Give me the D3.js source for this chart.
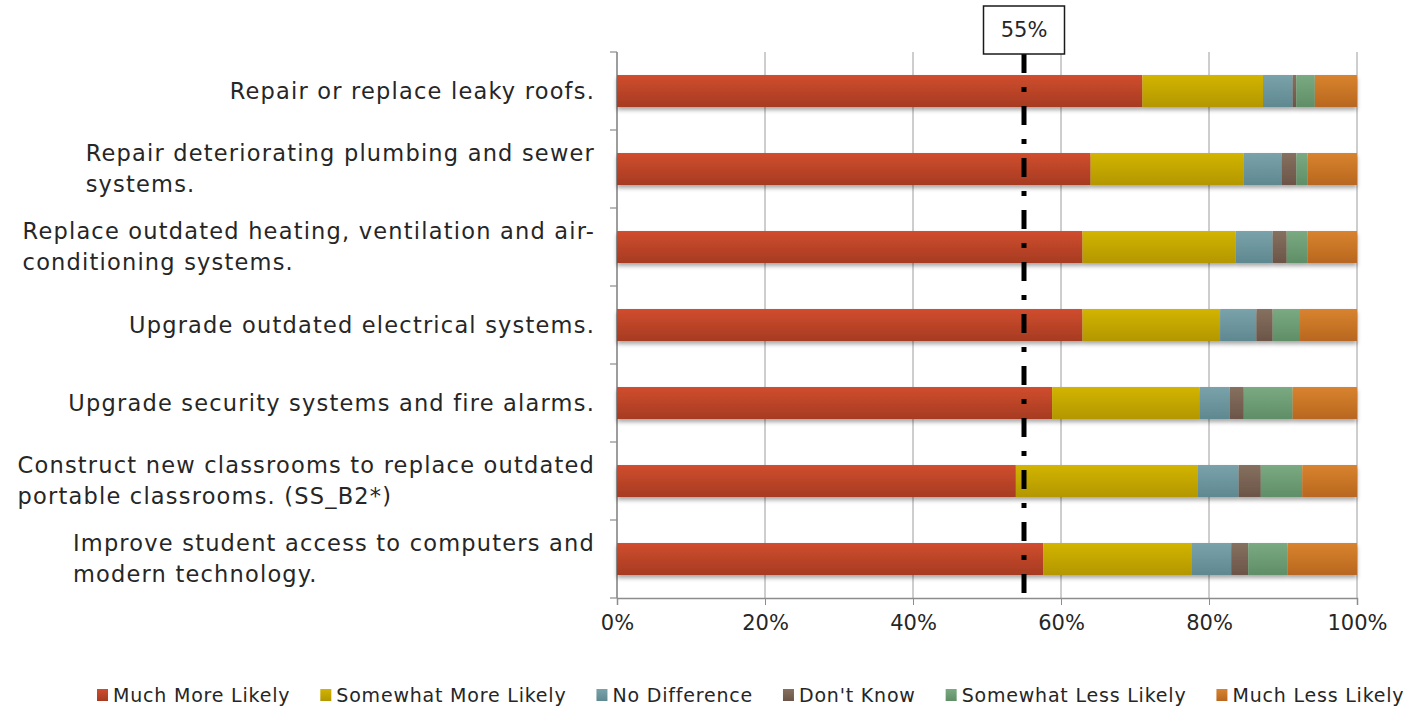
<!DOCTYPE html>
<html>
<head>
<meta charset="utf-8">
<script src="https://cdn.jsdelivr.net/npm/d3@7"></script>
<style>
  html, body { margin: 0; padding: 0; background: #fff; }
  svg { display: block; }
  text { font-family: "DejaVu Sans", "Open Sans", sans-serif; fill: #262626; }
</style>
</head>
<body>
<svg id="chart" width="1408" height="708"></svg>
<script>
// Survey items (line breaks follow the wrapped axis labels)
const categories = [
  "Repair or replace leaky roofs.",
  "Repair deteriorating plumbing and sewer\nsystems.",
  "Replace outdated heating, ventilation and air-\nconditioning systems.",
  "Upgrade outdated electrical systems.",
  "Upgrade security systems and fire alarms.",
  "Construct new classrooms to replace outdated\nportable classrooms. (SS_B2*)",
  "Improve student access to computers and\nmodern technology."
];

const seriesNames = [
  "Much More Likely", "Somewhat More Likely", "No Difference",
  "Don't Know", "Somewhat Less Likely", "Much Less Likely"
];

// Percent of respondents per series, one value per category
const muchMoreLikely     = [71.0, 64.0, 62.9, 62.9, 58.8, 53.9, 57.6];
const somewhatMoreLikely = [16.3, 20.7, 20.7, 18.6, 19.9, 24.6, 20.1];
const noDifference       = [ 4.0,  5.1,  5.0,  4.9,  4.1,  5.5,  5.3];
const dontKnow           = [ 0.5,  2.0,  1.9,  2.2,  1.9,  3.0,  2.3];
const somewhatLessLikely = [ 2.5,  1.5,  2.8,  3.7,  6.6,  5.6,  5.3];
const muchLessLikely     = [ 5.7,  6.7,  6.7,  7.7,  8.7,  7.4,  9.4];

const xTicks = [0, 20, 40, 60, 80, 100];
const thresholdValue = 55;
const thresholdLabel = "55%";

const seriesValues = [muchMoreLikely, somewhatMoreLikely, noDifference,
                      dontKnow, somewhatLessLikely, muchLessLikely];

// top / bottom shades for each series gradient
const seriesColors = [
  ["#d04d2e", "#a63b22"],
  ["#d2b400", "#b39700"],
  ["#79a2ab", "#5f8890"],
  ["#86705f", "#6b5548"],
  ["#7aaa82", "#5f8e67"],
  ["#d8832f", "#b8671f"]
];

const svg = d3.select("#chart");
const defs = svg.append("defs");

seriesColors.forEach((c, i) => {
  const g = defs.append("linearGradient")
    .attr("id", "grad" + i).attr("x1", 0).attr("y1", 0).attr("x2", 0).attr("y2", 1);
  g.append("stop").attr("offset", "0%").attr("stop-color", c[0]);
  g.append("stop").attr("offset", "100%").attr("stop-color", c[1]);
});

const shadow = defs.append("filter").attr("id", "barShadow")
  .attr("x", "-2%").attr("y", "-20%").attr("width", "104%").attr("height", "160%");
shadow.append("feDropShadow").attr("dx", 0).attr("dy", 3).attr("stdDeviation", 2)
  .attr("flood-color", "#000").attr("flood-opacity", 0.35);

const plot = { left: 617, right: 1357, top: 52, bottom: 598 };

const x = d3.scaleLinear().domain([0, 100]).range([plot.left, plot.right]);
const y = d3.scaleBand().domain(categories).range([plot.top, plot.bottom])
  .paddingInner(0.59).paddingOuter(0.295);

// vertical gridlines
svg.append("g").selectAll("line").data(xTicks).join("line")
  .attr("x1", d => x(d)).attr("x2", d => x(d))
  .attr("y1", plot.top).attr("y2", plot.bottom)
  .attr("stroke", "#9c9c9c").attr("stroke-width", 1);

// left axis with ticks on category boundaries
const step = y.step();
const boundaries = d3.range(categories.length + 1).map(i => plot.top + i * step);
const yAxisG = svg.append("g");
yAxisG.append("line")
  .attr("x1", plot.left).attr("x2", plot.left)
  .attr("y1", plot.top).attr("y2", plot.bottom)
  .attr("stroke", "#8c8c8c").attr("stroke-width", 1.5);
yAxisG.selectAll("line.tick").data(boundaries).join("line").attr("class", "tick")
  .attr("x1", plot.left - 7).attr("x2", plot.left)
  .attr("y1", d => d).attr("y2", d => d)
  .attr("stroke", "#8c8c8c").attr("stroke-width", 1.2);

// bottom axis
const xAxis = d3.axisBottom(x).tickValues(xTicks).tickFormat(d => d + "%")
  .tickSize(7).tickPadding(10);
const xAxisG = svg.append("g").attr("transform", `translate(0,${plot.bottom})`).call(xAxis);
xAxisG.select(".domain").attr("stroke", "#8c8c8c").attr("stroke-width", 1.5);
xAxisG.selectAll(".tick line").attr("stroke", "#8c8c8c");
xAxisG.selectAll(".tick text").attr("font-size", 21).attr("fill", "#262626")
  .style("font-family", "'DejaVu Sans', sans-serif");

// stacked data
const rows = categories.map((c, i) => {
  const r = { category: c };
  seriesNames.forEach((s, j) => { r[s] = seriesValues[j][i]; });
  return r;
});
const stacked = d3.stack().keys(seriesNames)(rows);

const barsG = svg.append("g");
categories.forEach((c, i) => {
  const rowG = barsG.append("g").attr("filter", "url(#barShadow)");
  stacked.forEach((layer, j) => {
    const d = layer[i];
    rowG.append("rect")
      .attr("x", x(d[0]))
      .attr("y", y(c))
      .attr("width", x(d[1]) - x(d[0]))
      .attr("height", y.bandwidth())
      .attr("fill", `url(#grad${j})`);
  });
});

// category labels: block right-aligned to the axis, wrapped lines left-aligned
const labelG = svg.append("g");
const labelRight = 595;
categories.forEach(c => {
  const lines = c.split("\n");
  const lh = 31;
  const cy = y(c) + y.bandwidth() / 2;
  const t = labelG.append("text")
    .attr("text-anchor", "start")
    .attr("font-size", 22.5)
    .attr("letter-spacing", 1.2);
  const spans = lines.map((ln, k) => t.append("tspan")
      .attr("y", cy + (k - (lines.length - 1) / 2) * lh)
      .attr("dy", "0.35em")
      .text(ln));
  const maxW = d3.max(spans, s => s.node().getComputedTextLength());
  spans.forEach(s => s.attr("x", labelRight - maxW));
});

// threshold line with label box
const tx = x(thresholdValue);
svg.append("line")
  .attr("x1", tx).attr("x2", tx).attr("y1", 54).attr("y2", 606)
  .attr("stroke", "#000").attr("stroke-width", 5)
  .attr("stroke-dasharray", "19,14,5,14");
svg.append("rect")
  .attr("x", tx - 40.5).attr("y", 6).attr("width", 81).attr("height", 48)
  .attr("fill", "#fff").attr("stroke", "#1a1a1a").attr("stroke-width", 1.5);
svg.append("text")
  .attr("x", tx).attr("y", 30).attr("dy", "0.35em")
  .attr("text-anchor", "middle").attr("font-size", 21)
  .text(thresholdLabel);

// legend
const legendG = svg.append("g");
let lx = 97;
const ly = 695;
seriesNames.forEach((s, j) => {
  legendG.append("rect")
    .attr("x", lx).attr("y", ly - 6).attr("width", 11).attr("height", 12)
    .attr("fill", `url(#grad${j})`);
  const t = legendG.append("text")
    .attr("x", lx + 16).attr("y", ly).attr("dy", "0.35em")
    .attr("font-size", 19).attr("letter-spacing", 0.8).text(s);
  const w = t.node().getComputedTextLength();
  lx += 16 + w + 30;
});
</script>
</body>
</html>
